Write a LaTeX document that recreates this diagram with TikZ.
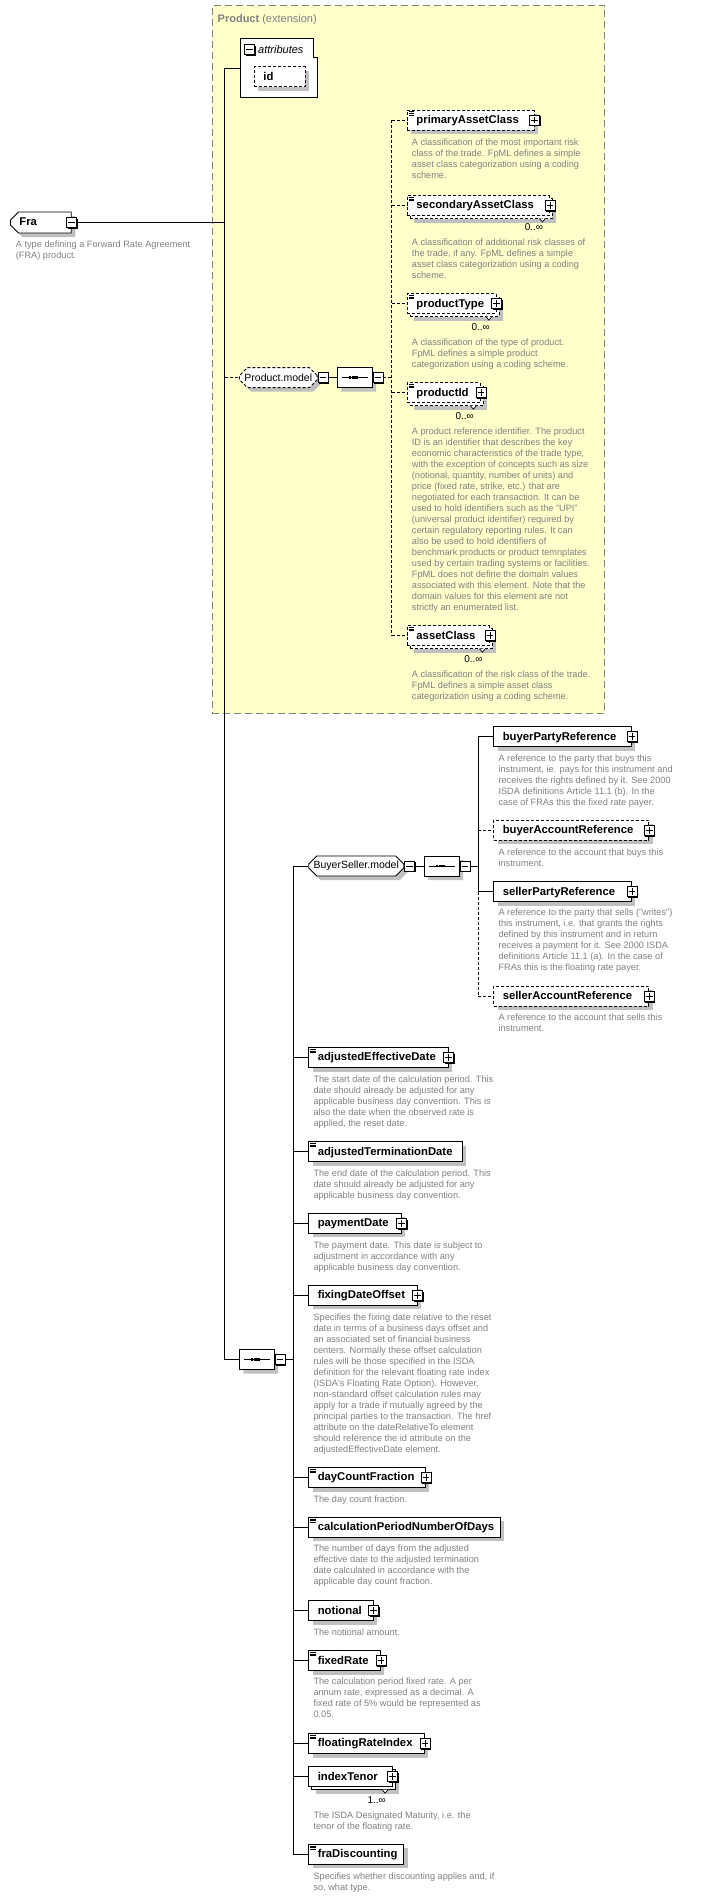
\documentclass[tikz,border=0pt]{standalone}
\usepackage{fontspec}
\setmainfont{Liberation Sans}
\usetikzlibrary{shapes.misc, shadows, positioning}
\definecolor{descgrey}{RGB}{128,128,128}
\definecolor{shadowgrey}{RGB}{192,192,192}
\definecolor{extyellow}{RGB}{255,255,204}
\definecolor{extborder}{RGB}{128,128,128}
\newcommand\elemfont{\fontsize{11.3}{13}\selectfont\bfseries}
\newcommand\grpfont{\fontsize{10.5}{12}\selectfont}
\newcommand\descfont{\fontsize{9.2}{11}\selectfont}
\newcommand\cardfont{\fontsize{10}{12}\selectfont}
\newcommand\elemstrut{\vrule height 9pt depth 2.4pt width 0pt}
\tikzset{
    boxline/.style={draw=black, line width=0.9pt},
    shad/.style={drop shadow={shadow xshift=4pt, shadow yshift=-4pt, fill=shadowgrey, opacity=1}},
    elembase/.style={
        rectangle, boxline, fill=white, anchor=west, minimum height=20pt, inner sep=0pt,
        align=left, font=\elemfont, execute at begin node={\elemstrut\hspace*{9pt}}
    },
    elem/.style={elembase, shad},
    optelem/.style={elem, dash pattern=on 3pt off 2pt},
    multielem/.style={
        elembase,
        drop shadow={shadow xshift=7pt, shadow yshift=-7pt, fill=shadowgrey, opacity=1},
        general shadow={shadow xshift=3pt, shadow yshift=-3pt, draw=black, fill=white}
    },
    optmulti/.style={multielem, dash pattern=on 3pt off 2pt},
    doc/.style={
        path picture={
            \foreach \k in {1.8,3.4,5.0}
                \draw[solid, line width=0.7pt] ([xshift=1.5pt, yshift=-\k*1pt]path picture bounding box.north west) -- ++(5.5pt,0pt);
        }
    },
    grp/.style={
        chamfered rectangle, chamfered rectangle sep=4pt, boxline, fill=white, anchor=west,
        minimum height=20pt, inner sep=0pt, font=\grpfont, shad
    },
    optgrp/.style={grp, dash pattern=on 3pt off 2pt},
    seqnode/.style={
        chamfered rectangle, chamfered rectangle sep=4pt, boxline, fill=white, anchor=west,
        minimum width=34.7pt, minimum height=20pt, inner sep=0pt, shad,
        path picture={
            \draw[solid, black, line width=0.8pt] ([xshift=-13pt]path picture bounding box.center) -- ([xshift=13pt]path picture bounding box.center);
            \foreach \dx in {-5,-1.6,1.8}
                \fill[black] ([xshift=\dx*1pt-1.3pt, yshift=-1.3pt]path picture bounding box.center) rectangle ++(2.6pt,2.6pt);
        }
    },
    fra/.style={
        chamfered rectangle, chamfered rectangle sep=4pt, chamfered rectangle corners={north west, south west},
        boxline, fill=white, anchor=west, minimum height=21pt, inner sep=0pt, text width=52.8pt,
        align=left, font=\elemfont, execute at begin node={\elemstrut\hspace*{5pt}}, shad
    },
    plusbox/.style={
        rectangle, draw=black, line width=0.8pt, fill=white, minimum width=10pt, minimum height=10pt, inner sep=0pt,
        drop shadow={shadow xshift=1.2pt, shadow yshift=-1.2pt, fill=black, opacity=1},
        path picture={
            \draw[black, line width=0.8pt] ([xshift=-3.3pt]path picture bounding box.center) -- ([xshift=3.3pt]path picture bounding box.center)
                ([yshift=-3.3pt]path picture bounding box.center) -- ([yshift=3.3pt]path picture bounding box.center);
        }
    },
    minusbox/.style={
        rectangle, draw=black, line width=0.8pt, fill=white, minimum width=10pt, minimum height=10pt, inner sep=0pt,
        drop shadow={shadow xshift=1.2pt, shadow yshift=-1.2pt, fill=black, opacity=1},
        path picture={
            \draw[black, line width=0.8pt] ([xshift=-3.3pt]path picture bounding box.center) -- ([xshift=3.3pt]path picture bounding box.center);
        }
    },
    extbox/.style={rectangle, draw=extborder, line width=0.9pt, dash pattern=on 7pt off 4pt, fill=extyellow, inner sep=0pt},
    extlabel/.style={font=\fontsize{11}{13}\selectfont, text=extborder, inner sep=0pt},
    attrlabel/.style={font=\fontsize{11}{13}\selectfont\itshape, inner sep=0pt},
    desc/.style={
        anchor=north west, inner sep=0pt, align=left, font=\descfont, text=descgrey,
        execute at begin node={\rule{0pt}{7.7pt}}
    },
    card/.style={anchor=east, inner sep=0pt, font=\cardfont},
    conn/.style={line width=0.9pt},
    optline/.style={line width=0.9pt, dash pattern=on 3pt off 2pt}
}

\begin{document}
\begin{tikzpicture}[x=1pt, y=-1pt]
    \useasboundingbox (0,0) rectangle (703,1898);

    % extension of Product
    \node[extbox, anchor=north west, minimum width=392.7pt, minimum height=708pt] (prod) at (211.7,5.3) {};
    \node[extlabel, anchor=west] (prod-l) at (217.5,19.3) {\textbf{Product} (extension)};

    \node[anchor=north west, minimum width=76.6pt, minimum height=59pt, inner sep=0pt] (attr) at (240,38.3) {};
    \draw[boxline, fill=white] (attr.south west) -- (attr.north west) -- ([xshift=-4pt]attr.north east)
        -- ([xshift=-4pt, yshift=-19pt]attr.north east) -- ([yshift=-19pt]attr.north east) -- (attr.south east) -- cycle;
    \node[minusbox, anchor=north west] (attr-m) at (244,44.3) {};
    \node[attrlabel, anchor=west] (attr-l) at (258,49.3) {attributes};
    \node[optelem, text width=51pt] (id) at (254,76.7) {id};

    \node[fra] (fra) at (10,222.5) {Fra};
    \node[minusbox] (fra-m) at (fra.east) {};
    \node[desc] (fra-d) at (15.7,240.7) {A type defining a Forward Rate Agreement\\(FRA) product.};

    \node[optgrp, minimum width=77.7pt] (pm) at (239,377.6) {Product.model};
    \node[minusbox, anchor=west] (pm-m) at (pm.east) {};
    \node[seqnode] (pm-seq) at (337,377.6) {};
    \node[minusbox, anchor=west] (pm-seq-m) at (pm-seq.east) {};

    \node[optelem, doc, text width=126.5pt] (pac) at (407,120) {primaryAssetClass};
    \node[desc] (pac-d) at (411.7,138.4) {A classification of the most important risk\\class of the trade. FpML defines a simple\\asset class categorization using a coding\\scheme.};
    \node[optmulti, doc, text width=142pt] (sac) at (407,205.5) {secondaryAssetClass};
    \node[card] (sac-c) at (543.3,226.7) {0..∞};
    \node[desc] (sac-d) at (411.7,238.4) {A classification of additional risk classes of\\the trade, if any. FpML defines a simple\\asset class categorization using a coding\\scheme.};
    \node[optmulti, doc, text width=88.5pt] (ptp) at (407,303.7) {productType};
    \node[card] (ptp-c) at (490,326.7) {0..∞};
    \node[desc] (ptp-d) at (411.7,338.7) {A classification of the type of product.\\FpML defines a simple product\\categorization using a coding scheme.};
    \node[optmulti, doc, text width=73pt] (pid) at (407,392.7) {productId};
    \node[card] (pid-c) at (474,416) {0..∞};
    \node[desc] (pid-d) at (411.7,427.4) {A product reference identifier. The product\\ID is an identifier that describes the key\\economic characteristics of the trade type,\\with the exception of concepts such as size\\(notional, quantity, number of units) and\\price (fixed rate, strike, etc.) that are\\negotiated for each transaction. It can be\\used to hold identifiers such as the "UPI"\\(universal product identifier) required by\\certain regulatory reporting rules. It can\\also be used to hold identifiers of\\benchmark products or product temnplates\\used by certain trading systems or facilities.\\FpML does not define the domain values\\associated with this element. Note that the\\domain values for this element are not\\strictly an enumerated list.};
    \node[optmulti, doc, text width=82pt] (acl) at (407,635.7) {assetClass};
    \node[card] (acl-c) at (482.7,659) {0..∞};
    \node[desc] (acl-d) at (411.7,670.7) {A classification of the risk class of the trade.\\FpML defines a simple asset class\\categorization using a coding scheme.};

    % BuyerSeller.model
    \node[grp, minimum width=95pt] (bsm) at (308.3,866) {BuyerSeller.model};
    \node[minusbox, anchor=west] (bsm-m) at (bsm.east) {};
    \node[seqnode] (bs-seq) at (424,866) {};
    \node[minusbox, anchor=west] (bs-seq-m) at (bs-seq.east) {};

    \node[elem, text width=137.7pt] (bpr) at (493.3,736.7) {buyerPartyReference};
    \node[desc] (bpr-d) at (498.3,754.4) {A reference to the party that buys this\\instrument, ie. pays for this instrument and\\receives the rights defined by it. See 2000\\ISDA definitions Article 11.1 (b). In the\\case of FRAs this the fixed rate payer.};
    \node[optelem, text width=155pt] (bar) at (493.3,830.3) {buyerAccountReference};
    \node[desc] (bar-d) at (498.3,848.4) {A reference to the account that buys this\\instrument.};
    \node[elem, text width=137.7pt] (spr) at (493.3,891.7) {sellerPartyReference};
    \node[desc] (spr-d) at (498.3,909) {A reference to the party that sells ("writes")\\this instrument, i.e. that grants the rights\\defined by this instrument and in return\\receives a payment for it. See 2000 ISDA\\definitions Article 11.1 (a). In the case of\\FRAs this is the floating rate payer.};
    \node[optelem, text width=155pt] (sar) at (493.3,996.3) {sellerAccountReference};
    \node[desc] (sar-d) at (498.3,1014) {A reference to the account that sells this\\instrument.};

    % main sequence
    \node[seqnode] (seq) at (239,1359.5) {};
    \node[minusbox, anchor=west] (seq-m) at (seq.east) {};

    \node[elem, doc, text width=139.4pt] (aed) at (308.3,1057.5) {adjustedEffectiveDate};
    \node[desc] (aed-d) at (313.3,1075.7) {The start date of the calculation period. This\\date should already be adjusted for any\\applicable business day convention. This is\\also the date when the observed rate is\\applied, the reset date.};
    \node[elem, doc, text width=153.4pt] (atd) at (308.3,1151.7) {adjustedTerminationDate};
    \node[desc] (atd-d) at (313.3,1169.4) {The end date of the calculation period. This\\date should already be adjusted for any\\applicable business day convention.};
    \node[elem, text width=92.4pt] (pd) at (308.3,1223.3) {paymentDate};
    \node[desc] (pd-d) at (313.3,1241.7) {The payment date. This date is subject to\\adjustment in accordance with any\\applicable business day convention.};
    \node[elem, text width=108.4pt] (fdo) at (308.3,1295.3) {fixingDateOffset};
    \node[desc] (fdo-d) at (313.3,1313.4) {Specifies the fixing date relative to the reset\\date in terms of a business days offset and\\an associated set of financial business\\centers. Normally these offset calculation\\rules will be those specified in the ISDA\\definition for the relevant floating rate index\\(ISDA\textquotesingle s Floating Rate Option). However,\\non-standard offset calculation rules may\\apply for a trade if mutually agreed by the\\principal parties to the transaction. The href\\attribute on the dateRelativeTo element\\should reference the id attribute on the\\adjustedEffectiveDate element.};
    \node[elem, doc, text width=116.7pt] (dcf) at (308.3,1477.5) {dayCountFraction};
    \node[desc] (dcf-d) at (313.3,1495) {The day count fraction.};
    \node[elem, doc, text width=191.7pt] (cpn) at (308.3,1527.3) {calculationPeriodNumberOfDays};
    \node[desc] (cpn-d) at (313.3,1545) {The number of days from the adjusted\\effective date to the adjusted termination\\date calculated in accordance with the\\applicable day count fraction.};
    \node[elem, text width=64.4pt] (nt) at (308.3,1610.7) {notional};
    \node[desc] (nt-d) at (313.3,1628) {The notional amount.};
    \node[elem, doc, text width=71.7pt] (fr) at (308.3,1660.7) {fixedRate};
    \node[desc] (fr-d) at (313.3,1678) {The calculation period fixed rate. A per\\annum rate, expressed as a decimal. A\\fixed rate of 5\% would be represented as\\0.05.};
    \node[elem, doc, text width=115.7pt] (fri) at (308.3,1743.5) {floatingRateIndex};
    \node[multielem, text width=83.4pt] (it) at (308.3,1776.7) {indexTenor};
    \node[card] (it-c) at (386,1800) {1..∞};
    \node[desc] (it-d) at (313.3,1811.4) {The ISDA Designated Maturity, i.e. the\\tenor of the floating rate.};
    \node[elem, doc, text width=95pt] (fd) at (308.3,1854.3) {fraDiscounting};
    \node[desc] (fd-d) at (313.3,1872.4) {Specifies whether discounting applies and, if\\so, what type.};

    \foreach \n in {sac,ptp,pid,acl,it}
        \draw[boxline, line width=0.7pt, fill=white] ([xshift=-10.5pt, yshift=-2.5pt]\n.south east) -- ++(3pt,-3.5pt) -- ++(3pt,3.5pt);
    \foreach \n in {pac,sac,ptp,pid,acl,bpr,bar,spr,sar,aed,pd,fdo,dcf,nt,fr,fri,it}
        \node[plusbox] (\n-p) at (\n.east) {};

    % connectors
    \coordinate (mainbus) at (224.5,0);
    \coordinate (pmbus) at (391.7,0);
    \coordinate (bsbus) at (478.3,0);
    \coordinate (seqbus) at (293.3,0);
    \draw[conn] (attr.west) -- (mainbus |- attr.west) -- (mainbus |- seq.west) -- (seq.west);
    \draw[conn] (fra-m.east) -- (mainbus |- fra-m.east);
    \draw[optline] (mainbus |- pm.west) -- (pm.west);
    \draw[conn] (pm-m.east) -- (pm-seq.west);
    \draw[optline] (pm-seq-m.east) -- (pmbus |- pm-seq-m.east);
    \draw[optline] (pmbus |- pac.west) -- (pmbus |- acl.west);
    \foreach \n in {pac,sac,ptp,pid,acl}
        \draw[optline] (pmbus |- \n.west) -- (\n.west);
    \draw[conn] (seq-m.east) -- (seqbus |- seq-m.east);
    \draw[conn] (seqbus |- bsm.west) -- (seqbus |- fd.west);
    \foreach \n in {bsm,aed,atd,pd,fdo,dcf,cpn,nt,fr,fri,it,fd}
        \draw[conn] (seqbus |- \n.west) -- (\n.west);
    \draw[conn] (bsm-m.east) -- (bs-seq.west);
    \draw[conn] (bs-seq-m.east) -- (bsbus |- bs-seq-m.east);
    \draw[conn] (bsbus |- bpr.west) -- (bsbus |- spr.west);
    \draw[optline] (bsbus |- spr.west) -- (bsbus |- sar.west);
    \draw[conn] (bsbus |- bpr.west) -- (bpr.west);
    \draw[conn] (bsbus |- spr.west) -- (spr.west);
    \draw[optline] (bsbus |- bar.west) -- (bar.west);
    \draw[optline] (bsbus |- sar.west) -- (sar.west);
\end{tikzpicture}
\end{document}
